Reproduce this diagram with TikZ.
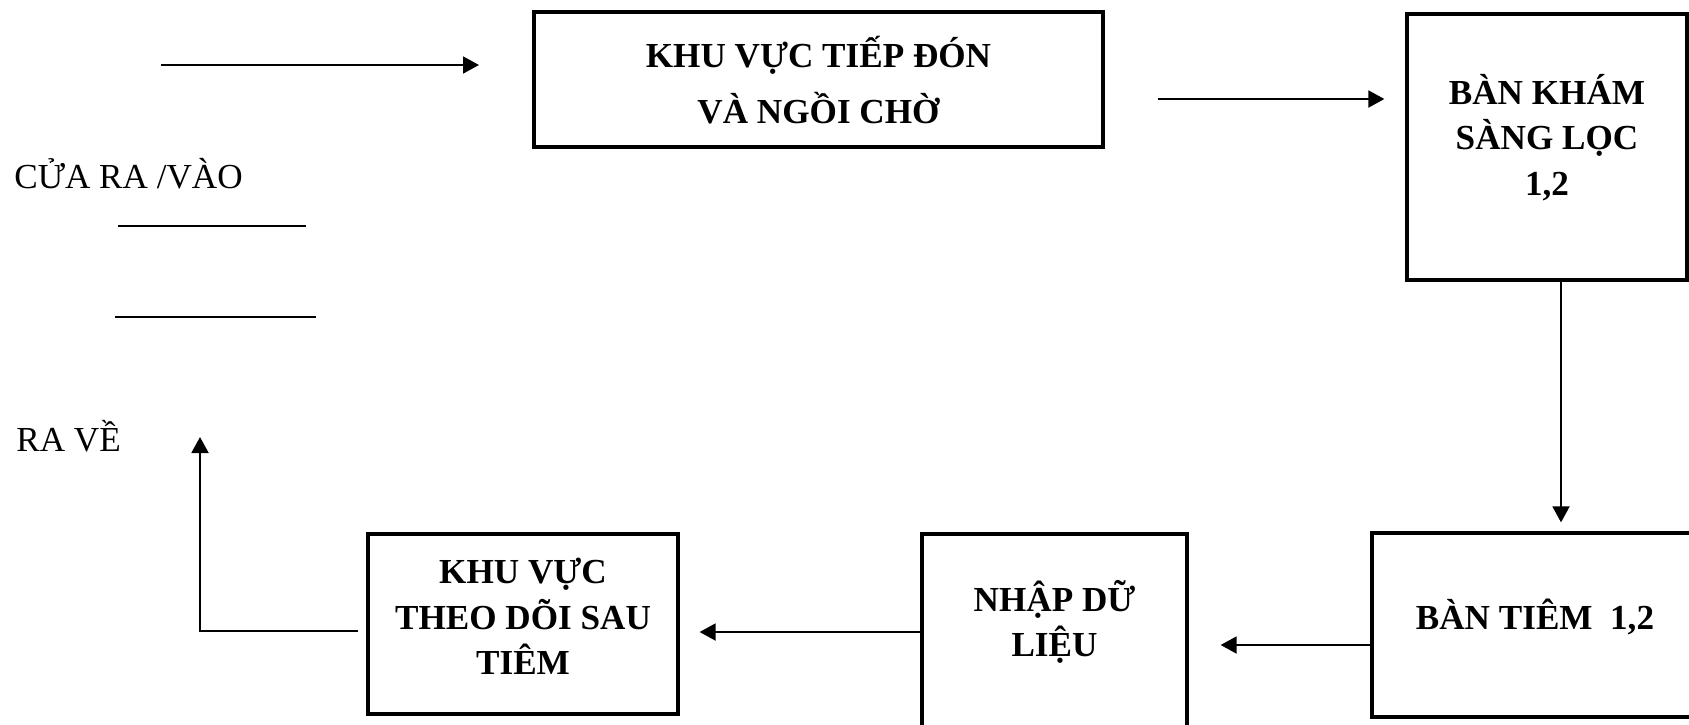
\documentclass[tikz,border=0pt]{standalone}
\usepackage{fontspec}
\setmainfont{Liberation Serif}
\usetikzlibrary{arrows.meta,positioning}

\begin{document}
\begin{tikzpicture}[x=0.02cm, y=-0.02cm, >={Triangle[length=0.32cm,width=0.34cm]},
  box/.style={draw, line width=1.9pt, inner sep=0pt},
  boxtext/.style={align=center, inner sep=0pt, font=\fontsize{20}{26}\selectfont\bfseries},
  flow/.style={->, line width=1.1pt},
  plain/.style={font=\fontsize{20}{24}\selectfont, inner sep=0pt}]
\useasboundingbox (0,0) rectangle (1689,724);
% --- Top row ---
\node[box, minimum width=11.38cm, minimum height=2.70cm] (reception) at (818.5,79.5) {};
\node[boxtext, font=\fontsize{20}{32}\selectfont\bfseries] (receptiontxt) at (818.5,80) {KHU VỰC TIẾP ĐÓN\\VÀ NGỒI CHỜ};
\node[box, minimum width=5.60cm, minimum height=5.32cm] (screening) at (1547,147) {};
\node[boxtext] (screeningtxt) at (1547,137.5) {BÀN KHÁM\\SÀNG LỌC\\1,2};
% --- Bottom row ---
\node[box, minimum width=6.56cm, minimum height=3.68cm] (injection) at (1536,625) {};
\node[boxtext] (injectiontxt) at (1535,617) {BÀN TIÊM\ \ 1,2};
\node[box, minimum width=5.30cm, minimum height=4.24cm] (dataentry) at (1054.5,640) {};
\node[boxtext] (dataentrytxt) at (1054.5,622) {NHẬP DỮ\\LIỆU};
\node[box, minimum width=6.20cm, minimum height=3.60cm] (monitoring) at (523,624) {};
\node[boxtext] (monitoringtxt) at (523,616.5) {KHU VỰC\\THEO DÕI SAU\\TIÊM};
% --- Door ---
\node[plain, anchor=base west] (door) at (14,188) {CỬA RA /VÀO};
\node[plain, anchor=base west] (leave) at (16,451) {RA VỀ};
\draw[line width=1.1pt] (118,226) -- (306,226);
\draw[line width=1.1pt] (115,317) -- (316,317);
\coordinate (entryA) at (161,65);
\coordinate (entryB) at (479,65);
\coordinate (exit) at (200,437);
% --- Flow ---
\draw[flow] (entryA) -- (entryB);
\draw[flow, shorten <=1.06cm, shorten >=0.42cm] (reception.east |- 0,99) -- (screening.west |- 0,99);
\draw[flow, shorten >=0.18cm] (screening.south -| 1561,0) -- (injection.north -| 1561,0);
\draw[flow, shorten >=0.64cm] (injection.west |- 0,645) -- (dataentry.east |- 0,645);
\draw[flow, shorten >=0.40cm] (dataentry.west |- 0,632) -- (monitoring.east |- 0,632);
\draw[flow, shorten <=0.16cm] (monitoring.west |- 0,631) -| (exit);
\end{tikzpicture}
\end{document}
